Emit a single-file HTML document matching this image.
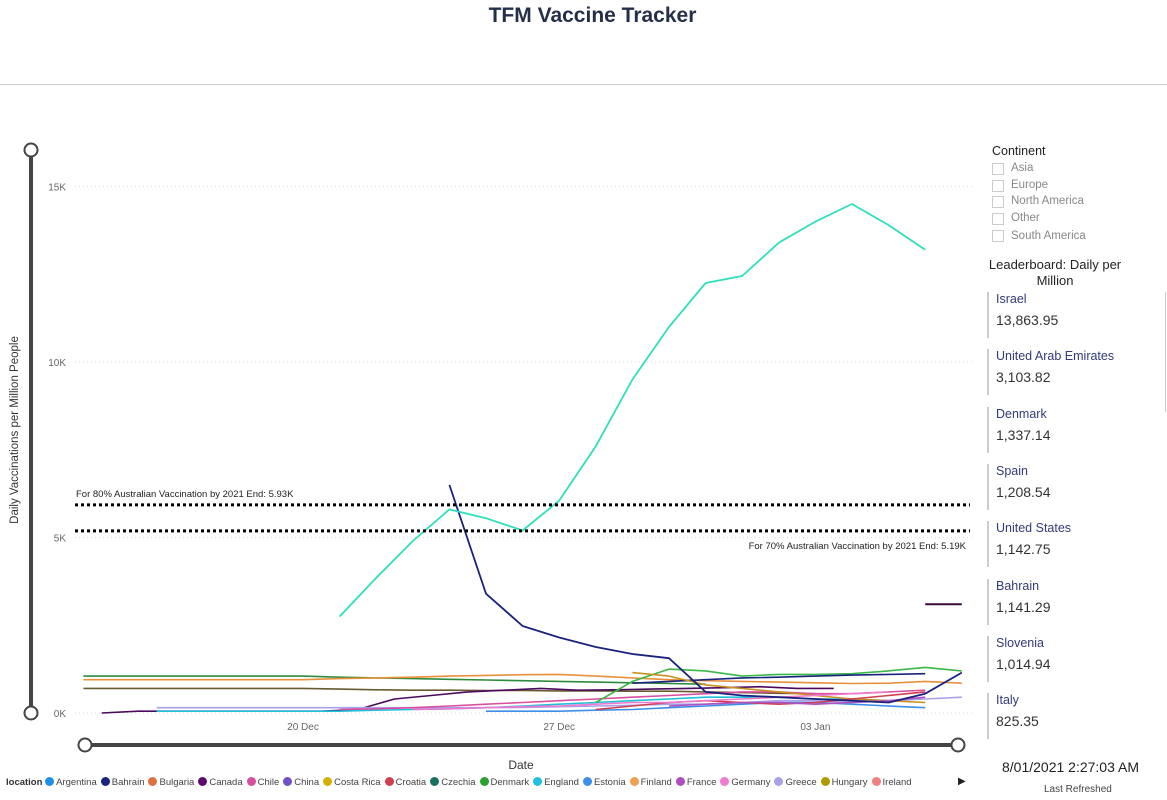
<!DOCTYPE html>
<html><head><meta charset="utf-8"><style>
body{margin:0;width:1167px;height:800px;background:#fff;font-family:"Liberation Sans",sans-serif;overflow:hidden;position:relative}
.t{position:absolute;white-space:nowrap}
.lb{position:absolute;left:987px;border-left:2px solid #ccc;padding-left:7px;height:46px}
.lb .n{color:#333a7a;font-size:12.5px}
.lb .v{color:#333;font-size:14px;margin-top:6px}
.cb{position:absolute;left:992px;width:10px;height:10px;border:1px solid #ccc}
.cl{position:absolute;left:1011px;font-size:11.5px;color:#888}
</style></head><body>
<div class="t" style="left:0;width:1185px;text-align:center;top:4px;font-size:21px;font-weight:bold;color:#252f4a">TFM Vaccine Tracker</div>
<div style="position:absolute;left:0;top:84px;width:1167px;height:1px;background:#ccc"></div>
<svg id="chart" width="1167" height="800" style="position:absolute;left:0;top:0"></svg>
<div class="t" style="left:992px;top:144px;font-size:12.5px;color:#222">Continent</div>
<div class="cb" style="top:163px"></div><div class="cl" style="top:162px">Asia</div>
<div class="cb" style="top:180px"></div><div class="cl" style="top:179px">Europe</div>
<div class="cb" style="top:196px"></div><div class="cl" style="top:195px">North America</div>
<div class="cb" style="top:213px"></div><div class="cl" style="top:212px">Other</div>
<div class="cb" style="top:230px"></div><div class="cl" style="top:230px">South America</div>
<div class="t" style="left:985px;width:140px;text-align:center;top:257px;font-size:13px;color:#222;white-space:normal;line-height:16px">Leaderboard: Daily per Million</div>
<div id="lbs"></div>
<div style="position:absolute;left:1165px;top:292px;width:1px;height:120px;background:#ccc"></div>
<div class="t" style="left:1002px;top:759px;font-size:14px;color:#222">8/01/2021 2:27:03 AM</div>
<div class="t" style="left:1044px;top:784px;font-size:10px;color:#444">Last Refreshed</div>
<div id="legend" style="position:absolute;left:6px;top:777px;font-size:9.5px;color:#444;white-space:nowrap"></div>
<div class="t" style="left:958px;top:776px;font-size:10px;color:#222">▶</div>
<script>
const leaders=["Israel","United Arab Emirates","Denmark","Spain","United States","Bahrain","Slovenia","Italy"];
const leaderVals=["13,863.95","3,103.82","1,337.14","1,208.54","1,142.75","1,141.29","1,014.94","825.35"];
const lbs=document.getElementById('lbs');
leaders.forEach((n,i)=>{const d=document.createElement('div');d.className='lb';d.style.top=(292+i*57.3)+'px';


d.innerHTML='<div class="n">'+n+'</div><div class="v">'+leaderVals[i]+'</div>';lbs.appendChild(d);});
const legendNames=["Argentina","Bahrain","Bulgaria","Canada","Chile","China","Costa Rica","Croatia","Czechia","Denmark","England","Estonia","Finland","France","Germany","Greece","Hungary","Ireland"];
const legendColors=["#1f8fe8","#1a237e","#e07040","#5c0a6e","#d94fa0","#7050c8","#d4b000","#d04050","#197060","#2ca02c","#20c0d8","#3d8ee8","#f0a050","#b050c0","#f07ad0","#a8a0e8","#b09a00","#f08080"];
const lg=document.getElementById('legend');
lg.innerHTML='<b style="color:#333">location</b> ';
legendNames.forEach((n,i)=>{const s=document.createElement('span');


s.style.marginRight='4px';
s.innerHTML='<span style="display:inline-block;width:9px;height:9px;border-radius:50%;background:'+legendColors[i]+';vertical-align:-1px;margin-right:2px"></span>'+n;lg.appendChild(s);});

// chart data (day 0 = 20 Dec), values in thousands
const yTicks=[0,5,10,15];
const yTickLabels=["0K","5K","10K","15K"];
const xTicks=[0,7,14];
const xTickLabels=["20 Dec","27 Dec","03 Jan"];
const refValues=[5.93,5.19];
const refLabels=["For 80% Australian Vaccination by 2021 End: 5.93K","For 70% Australian Vaccination by 2021 End: 5.19K"];
const israelStart=1;
const israel=[2.75,3.85,4.9,5.8,5.55,5.2,6.05,7.6,9.5,11,12.25,12.45,13.4,14,14.5,13.9,13.2];
const bahrainStart=4;
const bahrain=[6.5,3.4,2.48,2.15,1.88,1.68,1.56,0.6,0.5,0.45,0.4,0.35,0.3,0.55,1.15];
const uaeStart=17; const uae=[3.1,3.1];
const lowStarts=[-6,-6,-6,-5.5,-4,-4,1,8,9,9,5,8,10,3];
const lowSeries=[
[1.05,1.05,1.05,1.05,1.05,1.05,1.05,1.02,1.0,0.98,0.96,0.94,0.92,0.9,0.88,0.86,0.84,0.82],
[0.95,0.95,0.95,0.95,0.95,0.95,0.95,0.98,1.0,1.02,1.05,1.07,1.09,1.1,1.05,1.0,0.95,0.92,0.9,0.88,0.86,0.84,0.85,0.9,0.85],
[0.7,0.7,0.7,0.7,0.7,0.7,0.7,0.68,0.66,0.65,0.65,0.64,0.64,0.63,0.63,0.62,0.62,0.6,0.58,0.56,0.55],
[0,0.05,0.05,0.05,0.05,0.05,0.05,0.1,0.4,0.5,0.6,0.65,0.7,0.65,0.66,0.68,0.7,0.72,0.75,0.7,0.7],
[0.15,0.15,0.15,0.15,0.15,0.15,0.15,0.15,0.15,0.15,0.16,0.18,0.2,0.22,0.25,0.25,0.3,0.35,0.35,0.3,0.35,0.4,0.45],
[0.05,0.05,0.05,0.05,0.05,0.05,0.08,0.1,0.12,0.15,0.2,0.25,0.3,0.35,0.4,0.45,0.45,0.45,0.4,0.4,0.35],
[0.1,0.12,0.15,0.2,0.25,0.3,0.35,0.4,0.45,0.5,0.55,0.6,0.6,0.55,0.55,0.6,0.65],
[0.3,0.9,1.25,1.2,1.05,1.1,1.1,1.12,1.2,1.3,1.2],
[0.85,0.9,0.95,1.0,1.02,1.05,1.08,1.1,1.12],
[1.15,1.05,0.8,0.7,0.6,0.5,0.4,0.35,0.3],
[0.05,0.05,0.05,0.08,0.1,0.15,0.2,0.25,0.3,0.3,0.25,0.2,0.15],
[0.1,0.2,0.3,0.35,0.3,0.25,0.3,0.4,0.5,0.6],
[0.2,0.25,0.3,0.3,0.25,0.3,0.35,0.45],
[0.1,0.12,0.15,0.18,0.2,0.25,0.3,0.3,0.35,0.4,0.45,0.5,0.55,0.6]];
const lowColors=["#2e8b3e","#e8903a","#6a5a30","#4a0a5e","#a8a0e8","#20c0d8","#d94fa0","#3cb84a","#1a237e","#c89020","#3d8ee8","#d04050","#b050c0","#f07ad0"];

const X=d=>303+d*36.6, Y=v=>713-v*35.1;
const svg=document.getElementById('chart'),NS='http://www.w3.org/2000/svg';
function el(t,a,p){const e=document.createElementNS(NS,t);for(const k in a)e.setAttribute(k,a[k]);(p||svg).appendChild(e);return e;}
yTicks.forEach((v,i)=>{const g=el('line',{x1:75,x2:975,y1:Y(v),y2:Y(v),stroke:'#ddd','stroke-dasharray':'1,3'});


const t=el('text',{x:66,y:Y(v)+4,'text-anchor':'end','font-size':10,fill:'#666'});t.textContent=yTickLabels[i];

});
xTicks.forEach((d,i)=>{const t=el('text',{x:X(d),y:730,'text-anchor':'middle','font-size':10,fill:'#666'});t.textContent=xTickLabels[i];

});
const yt=el('text',{x:0,y:0,transform:'translate(18,430) rotate(-90)','text-anchor':'middle','font-size':11.5,fill:'#333'});yt.textContent='Daily Vaccinations per Million People';


const xt=el('text',{x:521,y:769,'text-anchor':'middle','font-size':12,fill:'#333'});xt.textContent='Date';


function series(start,vals,color,w,name){const pts=vals.map((v,i)=>X(start+i).toFixed(1)+','+Y(v).toFixed(1)).join(' ');
const p=el('polyline',{points:pts,fill:'none',stroke:color,'stroke-width':w,'stroke-linejoin':'round'});

}
lowSeries.forEach((s,i)=>series(lowStarts[i],s,lowColors[i],1.6,'series-line'));
series(bahrainStart,bahrain,'#1a237e',1.8,'bahrain-line');
series(uaeStart,uae,'#3a0a3e',2,'uae-line');
series(israelStart,israel,'#2ee0b8',1.8,'israel-line');
refValues.forEach((v,i)=>{const l=el('line',{x1:75,x2:970,y1:Y(v),y2:Y(v),stroke:'#000','stroke-width':3,'stroke-dasharray':'3,3'});


const t=el('text',{x:i?966:76,y:i?Y(v)+18:Y(v)-8,'text-anchor':i?'end':'start','font-size':9.5,fill:'#222'});t.textContent=refLabels[i];

});
const vs=el('line',{x1:31,x2:31,y1:150,y2:713,stroke:'#444','stroke-width':4});


const hs=el('line',{x1:85,x2:958,y1:745,y2:745,stroke:'#444','stroke-width':4});


[[31,150],[31,713],[85,745],[958,745]].forEach(c=>{const h=el('circle',{cx:c[0],cy:c[1],r:6.5,fill:'#fff',stroke:'#444','stroke-width':2});

});
</script>
</body></html>
